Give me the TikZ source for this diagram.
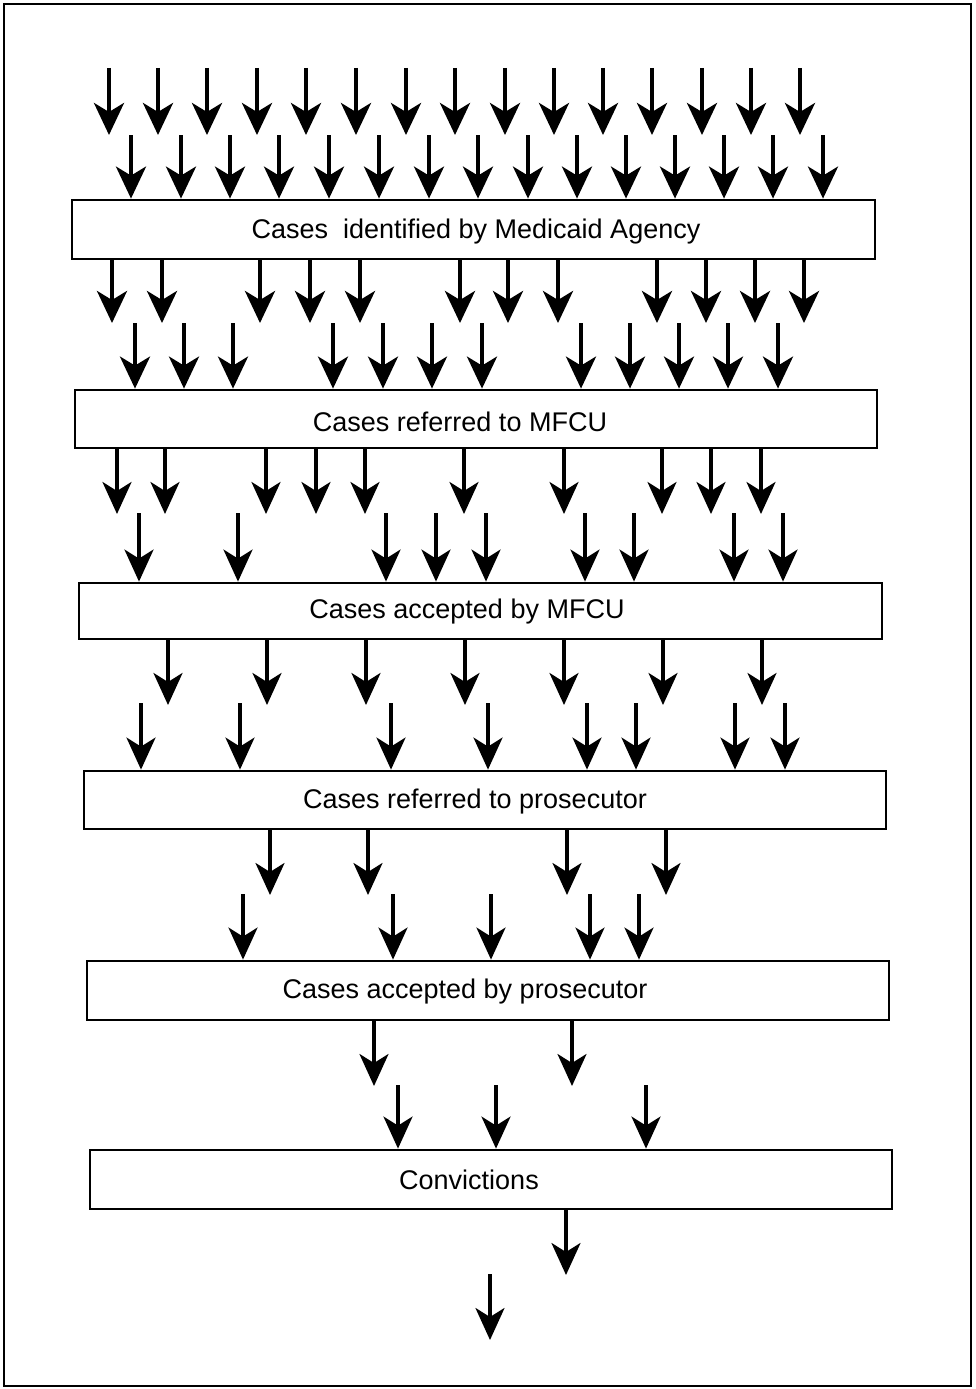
\documentclass[tikz,border=0pt]{standalone}
\usepackage{fontspec}
\setmainfont{Liberation Sans}
\usetikzlibrary{arrows.meta}
\begin{document}
\begin{tikzpicture}[x=1pt,y=-1pt,
  arr/.style={line width=4pt,-{Stealth[length=32pt,width=30pt,inset=9pt]}},
  arrl/.style={line width=3.4pt,-{Stealth[length=32pt,width=29pt,inset=9pt]}},
  stagebox/.style={draw,line width=2.8pt,rectangle,inner sep=0pt},
  lbl/.style={font=\fontsize{27}{31}\selectfont,inner sep=0pt}]
\useasboundingbox (0,0) rectangle (976,1389);
\draw[line width=2pt] (4,4) rectangle (971,1386);
% boxes
\node[stagebox,minimum width=803pt,minimum height=59pt] (b1) at (473.5,229.5) {};
\node[stagebox,minimum width=802pt,minimum height=58pt] (b2) at (476,419) {};
\node[stagebox,minimum width=803pt,minimum height=56pt] (b3) at (480.5,611) {};
\node[stagebox,minimum width=802pt,minimum height=58pt] (b4) at (485,800) {};
\node[stagebox,minimum width=802pt,minimum height=59pt] (b5) at (488,990.5) {};
\node[stagebox,minimum width=802pt,minimum height=59pt] (b6) at (491,1179.5) {};
% labels
\node[lbl] (t1) at (476,232) {Cases\ \ identified by Medicaid Agency};
\node[lbl] (t2) at (460,422) {Cases referred to MFCU};
\node[lbl] (t3) at (467,612) {Cases accepted by MFCU};
\node[lbl] (t4) at (475,802) {Cases referred to prosecutor};
\node[lbl] (t5) at (465,992) {Cases accepted by prosecutor};
\node[lbl] (t6) at (469,1180) {Convictions};
% row 1 and 2
\foreach \x in {109,158,207,257,306,356,406,455,505,554,603,652,702,751,800}
  \draw[arr] (\x,68) -- (\x,135);
\foreach \x in {131,181,230,279,329,379,429,478,528,577,626,675,724,773,823}
  \draw[arr] (\x,135) -- (b1.north -| \x,0);
% rows 3 and 4
\foreach \x in {112,162,260,310,360,460,508,558,657,706,755,804}
  \draw[arr] (b1.south -| \x,0) -- (\x,323);
\foreach \x in {135,184,233,333,383,432,482,581,630,679,728,778}
  \draw[arr] (\x,323) -- (b2.north -| \x,0);
% rows 5 and 6
\foreach \x in {117,165,266,316,365,464,564,662,711,761}
  \draw[arrl] (b2.south -| \x,0) -- (\x,514);
\foreach \x in {139,238,386,436,486,585,634,734,783}
  \draw[arrl] (\x,513) -- (b3.north -| \x,0);
% rows 7 and 8
\foreach \x in {168,267,366,465,564,663,762}
  \draw[arrl] (b3.south -| \x,0) -- (\x,705);
\foreach \x in {141,240,391,488,587,636,735,785}
  \draw[arrl] (\x,703) -- (b4.north -| \x,0);
% rows 9 and 10
\foreach \x in {270,368,567,666}
  \draw[arrl] (b4.south -| \x,0) -- (\x,895);
\foreach \x in {243,393,491,590,639}
  \draw[arrl] (\x,894) -- (b5.north -| \x,0);
% rows 11 and 12
\foreach \x in {374,572}
  \draw[arrl] (b5.south -| \x,0) -- (\x,1086);
\foreach \x in {398,496,646}
  \draw[arrl] (\x,1085) -- (b6.north -| \x,0);
% rows 13 and 14
\coordinate (c13) at (566,1275);
\coordinate (s14) at (490,1274);
\coordinate (c14) at (490,1340);
\draw[arrl] (b6.south -| c13) -- (c13);
\draw[arrl] (s14) -- (c14);
\end{tikzpicture}
\end{document}
